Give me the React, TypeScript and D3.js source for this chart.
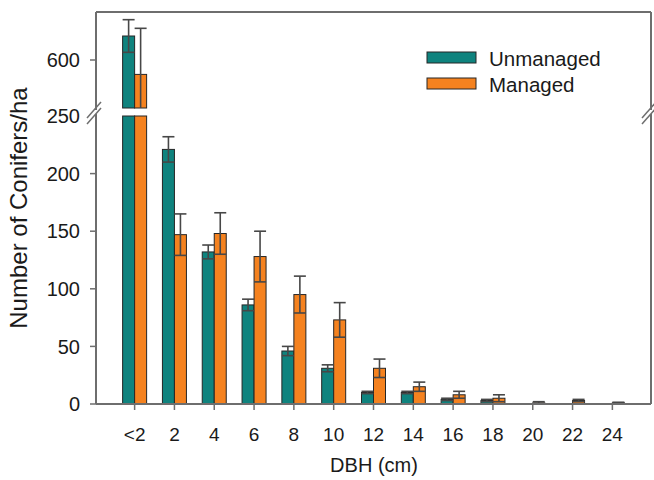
import React from "react";
import * as d3 from "d3";

const CATEGORIES = ["<2", "2", "4", "6", "8", "10", "12", "14", "16", "18", "20", "22", "24"];
const UNMANAGED = [625, 221, 132, 86, 46, 31, 10, 10, 4, 3, 0, 0, 0];
const UNMANAGED_ERR = [17, 11, 6, 5, 4, 3, 1, 1, 1, 1, 0, 0, 0];
const MANAGED = [585, 147, 148, 128, 95, 73, 31, 15, 8, 5, 1, 3, 1];
const MANAGED_ERR = [48, 18, 18, 22, 16, 15, 8, 4, 3, 3, 1, 1, 0.5];
const LOW_TICKS = [0, 50, 100, 150, 200, 250];
const HIGH_TICKS = [600];

const TEAL = "#0f837e";
const ORANGE = "#f5821f";
const FONT = "'Liberation Sans', Arial, sans-serif";

const W = 654;
const H = 480;
const left = 96;
const right = 651;
const top = 12;
const bottom = 404;
const breakLow = 116; // y of 250 on lower segment
const breakHigh = 108; // bottom of upper segment
const LOW_MAX = 250;
const HIGH_MIN = 550;

const App: React.FC = () => {
  const x = d3.scalePoint<string>().domain(CATEGORIES).range([left, right]).padding(0.97);
  const yLow = d3.scaleLinear().domain([0, LOW_MAX]).range([bottom, breakLow]);
  const yHigh = d3.scaleLinear().domain([HIGH_MIN, 650]).range([breakHigh, top]);
  const barW = 12;
  const axisColor = "#6e6e6e";

  const series = [
    { name: "Unmanaged", values: UNMANAGED, errs: UNMANAGED_ERR, color: TEAL, off: -barW },
    { name: "Managed", values: MANAGED, errs: MANAGED_ERR, color: ORANGE, off: 0 },
  ];

  // value -> y, honours the axis break
  const yOf = (v: number) => (v <= LOW_MAX ? yLow(v) : yHigh(Math.max(v, HIGH_MIN)));

  const bars: React.ReactNode[] = [];
  const errs: React.ReactNode[] = [];
  series.forEach((s, si) => {
    CATEGORIES.forEach((c, i) => {
      const v = s.values[i];
      if (v <= 0) return;
      const bx = x(c)! + s.off;
      if (v <= LOW_MAX) {
        bars.push(
          <rect key={`b${si}-${i}`} x={bx} y={yLow(v)} width={barW} height={bottom - yLow(v)}
            fill={s.color} stroke="#262626" strokeWidth={1} />
        );
      } else {
        bars.push(
          <g key={`b${si}-${i}`}>
            <rect x={bx} y={breakLow} width={barW} height={bottom - breakLow}
              fill={s.color} stroke="#262626" strokeWidth={1} />
            <rect x={bx} y={yHigh(v)} width={barW} height={breakHigh - yHigh(v)}
              fill={s.color} stroke="#262626" strokeWidth={1} />
          </g>
        );
      }
      const e = s.errs[i];
      if (e <= 0) return;
      const cx = bx + barW / 2;
      let lo = v - e;
      const hi = v + e;
      if (v > LOW_MAX) lo = Math.max(lo, HIGH_MIN);
      const yHi = yOf(hi);
      const yLo = yOf(Math.max(lo, 0));
      errs.push(
        <g key={`e${si}-${i}`} stroke="#474747" strokeWidth={1.6}>
          <line x1={cx} x2={cx} y1={yHi} y2={yLo} />
          <line x1={bx} x2={bx + barW} y1={yHi} y2={yHi} />
          {lo > (v > LOW_MAX ? HIGH_MIN : 0) && (
            <line x1={bx} x2={bx + barW} y1={yLo} y2={yLo} />
          )}
        </g>
      );
    });
  });

  const slashes = (ax: number) => (
    <g stroke={axisColor} strokeWidth={1.5}>
      <line x1={ax - 9} y1={118} x2={ax + 5} y2={102} />
      <line x1={ax - 9} y1={124} x2={ax + 5} y2={108} />
    </g>
  );

  return (
    <svg width={W} height={H} style={{ position: "absolute", left: 0, top: 0, background: "#fff" }}
      fontFamily={FONT}>
      {bars}
      {errs}

      {/* frame */}
      <g stroke={axisColor} strokeWidth={2} fill="none">
        <line x1={left} x2={right} y1={top} y2={top} />
        <line x1={left} x2={right} y1={bottom} y2={bottom} />
        <line x1={left} x2={left} y1={top} y2={110} />
        <line x1={left} x2={left} y1={114} y2={bottom} />
        <line x1={right} x2={right} y1={top} y2={110} />
        <line x1={right} x2={right} y1={114} y2={bottom} />
      </g>
      {slashes(left)}
      {slashes(right)}

      {/* y ticks */}
      {LOW_TICKS.map((t) => (
        <g key={`lt${t}`}>
          {t !== LOW_MAX && (
            <line x1={left - 6} x2={left} y1={yLow(t)} y2={yLow(t)} stroke={axisColor} strokeWidth={1.5} />
          )}
          <text x={80} y={yLow(t)} dy="0.36em" textAnchor="end" fontSize={20} fill="#1a1a1a">{t}</text>
        </g>
      ))}
      {HIGH_TICKS.map((t) => (
        <g key={`ht${t}`}>
          <line x1={left - 6} x2={left} y1={yHigh(t)} y2={yHigh(t)} stroke={axisColor} strokeWidth={1.5} />
          <text x={80} y={yHigh(t)} dy="0.36em" textAnchor="end" fontSize={20} fill="#1a1a1a">{t}</text>
        </g>
      ))}

      {/* x ticks */}
      {CATEGORIES.map((c) => (
        <g key={`xt${c}`}>
          <line x1={x(c)!} x2={x(c)!} y1={bottom} y2={bottom + 6} stroke={axisColor} strokeWidth={1.5} />
          <text x={x(c)!} y={441} textAnchor="middle" fontSize={19} fill="#1a1a1a">{c}</text>
        </g>
      ))}

      <text x={374} y={472} textAnchor="middle" fontSize={20} fill="#1a1a1a">DBH (cm)</text>
      <text transform="translate(27,208) rotate(-90)" textAnchor="middle" fontSize={24} fill="#1a1a1a">
        Number of Conifers/ha
      </text>

      {/* legend */}
      {series.map((s, i) => (
        <g key={`lg${s.name}`} transform={`translate(427,${52 + i * 26})`}>
          <rect width={49} height={11} fill={s.color} stroke="#262626" strokeWidth={1} />
          <text x={62} y={14} fontSize={20.5} fill="#1a1a1a">{s.name}</text>
        </g>
      ))}
    </svg>
  );
};

export default App;
